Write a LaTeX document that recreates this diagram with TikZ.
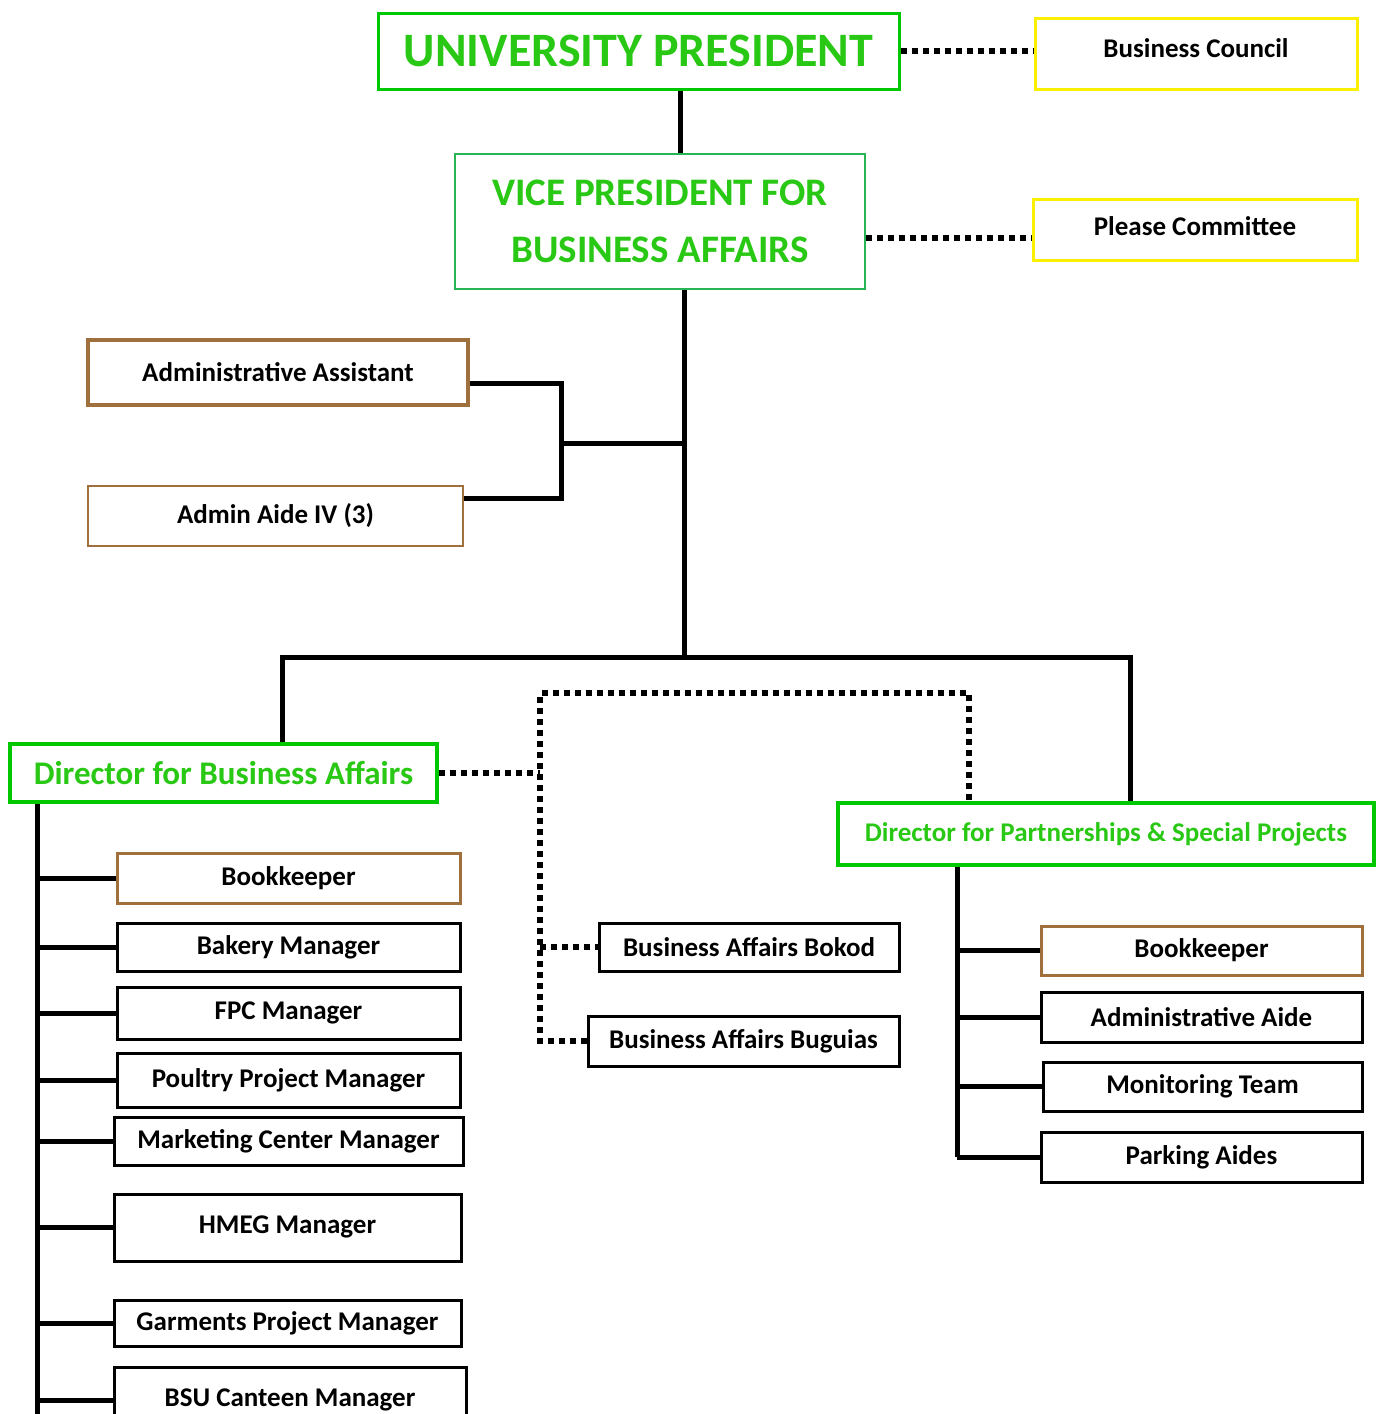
\documentclass[tikz,border=0pt]{standalone}
\usepackage{fontspec}
\setmainfont{Carlito}
\definecolor{ttl}{RGB}{40,200,20}
\definecolor{upgreen}{RGB}{0,200,0}
\definecolor{vpgreen}{RGB}{40,180,80}
\definecolor{gold}{RGB}{250,240,0}
\definecolor{brown}{RGB}{160,112,60}

\begin{document}
\begin{tikzpicture}[x=1pt, y=-1pt, font=\bfseries,
  box/.style = {draw, line width=3pt, inner sep=0pt, font=\fontsize{27}{30}\selectfont\bfseries},
  head/.style = {box, draw=upgreen, text=ttl},
  side/.style = {box, draw=gold, line width=3pt},
  staff/.style = {box, draw=brown},
  link/.style = {line width=5pt},
  dots/.style = {line width=6pt, dash pattern=on 6pt off 5pt}]
\useasboundingbox[fill=white] (0,0) rectangle (1379,1414);

% top of the chart
\node[head, minimum width=521pt, minimum height=76pt, font=\fontsize{48}{52}\selectfont\bfseries] (up) at (638.5,51) {UNIVERSITY PRESIDENT};
\node[side, minimum width=322pt, minimum height=71pt] (bc) at (1196,53.5) {\raisebox{10pt}{Business Council}};
\node[head, draw=vpgreen, line width=2.5pt, minimum width=410pt, minimum height=135pt, align=center, font=\fontsize{39}{57}\selectfont\bfseries] (vp) at (660,221.5) {VICE PRESIDENT FOR\\BUSINESS AFFAIRS};
\node[side, minimum width=324pt, minimum height=61pt] (pc) at (1195,229.5) {\raisebox{6pt}{Please Committee}};
\node[staff, line width=3.5pt, minimum width=380pt, minimum height=65pt] (aa) at (278,372.5) {Administrative Assistant};
\node[staff, line width=2pt, minimum width=375pt, minimum height=60pt] (aide) at (275.5,516) {Admin Aide IV (3)};

% directors
\node[head, line width=3.5pt, minimum width=427pt, minimum height=58pt, font=\fontsize{33}{36}\selectfont\bfseries] (dba) at (223.5,773) {Director for Business Affairs};
\node[head, line width=3.5pt, minimum width=536pt, minimum height=62pt, font=\fontsize{27}{30}\selectfont\bfseries] (dps) at (1106,834) {Director for Partnerships \& Special Projects};

% left column
\node[staff, minimum width=343pt, minimum height=50pt] (bk1) at (288.5,878) {Bookkeeper};
\node[box, minimum width=343pt, minimum height=48pt] (bak) at (288.5,947) {Bakery Manager};
\node[box, minimum width=343pt, minimum height=52pt] (fpc) at (288.5,1013) {FPC Manager};
\node[box, minimum width=343pt, minimum height=54pt] (pou) at (288.5,1080) {Poultry Project Manager};
\node[box, minimum width=349pt, minimum height=48pt] (mkt) at (288.5,1141) {\raisebox{-6pt}{Marketing Center Manager}};
\node[box, minimum width=347pt, minimum height=67pt] (hmeg) at (287.5,1227.5) {\raisebox{6pt}{HMEG Manager}};
\node[box, minimum width=347pt, minimum height=46pt] (gar) at (287.5,1323) {\raisebox{-6pt}{Garments Project Manager}};
\node[box, minimum width=352pt, minimum height=66pt] (bsu) at (290,1400) {\raisebox{2pt}{BSU Canteen Manager}};

% middle
\node[box, minimum width=300pt, minimum height=48pt] (bok) at (749,947) {Business Affairs Bokod};
\node[box, minimum width=311pt, minimum height=50pt] (bug) at (743.5,1041) {Business Affairs Buguias};

% right column
\node[staff, minimum width=321pt, minimum height=49pt] (bk2) at (1201.5,950.5) {Bookkeeper};
\node[box, minimum width=321pt, minimum height=50pt] (adm) at (1201.5,1017) {Administrative Aide};
\node[box, minimum width=319pt, minimum height=49pt] (mon) at (1202.5,1086.5) {Monitoring Team};
\node[box, minimum width=321pt, minimum height=50pt] (park) at (1201.5,1157) {Parking Aides};

% points where lines meet
\coordinate (a) at (680,0);
\coordinate (b) at (684,657);
\coordinate (j) at (684,443);
\coordinate (k1) at (561,383);
\coordinate (k2) at (561,498);
\coordinate (bl) at (282,657);
\coordinate (br) at (1130,657);
\coordinate (lt) at (37,0);
\coordinate (lb) at (37,1416);
\coordinate (rt) at (957,0);
\coordinate (d1) at (0,238);
\coordinate (dv) at (540,693);
\coordinate (dr) at (969,0);

\draw[link] (up.south -| a) -- (vp.north -| a);
\draw[link] (vp.south -| b) -- (b);
\draw[link] (aa.east |- k1) -- (k1) -- (k2) -- (aide.east |- k2);
\draw[link] (k1 |- j) -- (j);
\draw[link] (dba.north -| bl) -- (bl) -- (br) -- (dps.north -| br);

\draw[link] (dba.south -| lt) -- (lb);
\foreach \n in {bk1,bak,fpc,pou,mkt,hmeg,gar,bsu}
  \draw[link] (\n.west -| lt) -- (\n.west);
\draw[link] (dps.south -| rt) -- (park.west -| rt);
\foreach \n in {bk2,adm,mon,park}
  \draw[link] (\n.west -| rt) -- (\n.west);

% dotted lines
\draw[dots] (up.east) -- (up.east -| bc.west);
\draw[dots] (vp.east |- d1) -- (pc.west |- d1);
\draw[dots] (dba.east) -- (dba.east -| dv);
\draw[dots] (bug.west) -- (bug.west -| dv) -- (dv) -- (dv -| dr) -- (dps.north -| dr);
\draw[dots] (bok.west -| dv) -- (bok.west);
\end{tikzpicture}
\end{document}
